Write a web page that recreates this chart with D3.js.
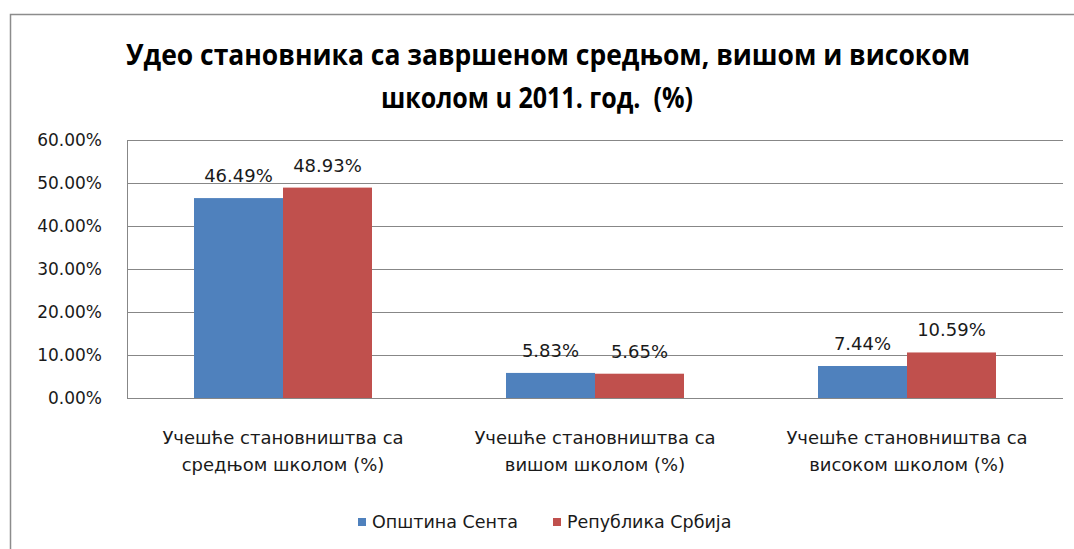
<!DOCTYPE html>
<html>
<head>
<meta charset="utf-8">
<script src="https://cdn.jsdelivr.net/npm/d3@7"></script>
<style>
  body { margin: 0; background: #fff; }
  text { font-family: "DejaVu Sans", sans-serif; fill: #1a1a1a; }
</style>
</head>
<body>
<svg id="vis"></svg>
<script>
const width = 1074;
const height = 549;

const categories = [
  ["Учешће становништва са", "средњом школом (%)"],
  ["Учешће становништва са", "вишом школом (%)"],
  ["Учешће становништва са", "високом школом (%)"]
];
const seriesNames = ["Општина Сента", "Република Србија"];
const senta = [46.49, 5.83, 7.44];
const srbija = [48.93, 5.65, 10.59];
const yTicks = [0, 10, 20, 30, 40, 50, 60];
const colours = ["#4F81BD", "#C0504D"];

const plot = { left: 127, right: 1063, top: 140, bottom: 398 };

const svg = d3.select("#vis")
  .attr("width", width)
  .attr("height", height);

// chart frame (only top and left visible in the picture)
svg.append("path")
  .attr("d", "M10.5,549 V14.5 H1074")
  .attr("fill", "none")
  .attr("stroke", "#8c8c8c")
  .attr("stroke-width", 1.5);

const title = svg.append("text")
  .attr("text-anchor", "middle")
  .style("font-family", "\"Open Sans\", sans-serif")
  .style("font-size", "29px")
  .style("font-weight", "bold")
  .style("white-space", "pre")
  .style("fill", "#000");
title.append("tspan").attr("x", 548).attr("y", 65)
  .attr("textLength", 844).attr("lengthAdjust", "spacingAndGlyphs")
  .text("Удео становника са завршеном средњом, вишом и високом");
title.append("tspan").attr("x", 537).attr("y", 108)
  .attr("textLength", 312).attr("lengthAdjust", "spacingAndGlyphs")
  .text("школом u 2011. год.  (%)");

const x0 = d3.scaleBand()
  .domain(d3.range(categories.length))
  .range([plot.left, plot.right]);

const x1 = d3.scaleBand()
  .domain(d3.range(seriesNames.length))
  .range([0, 178]);

const y = d3.scaleLinear()
  .domain([0, 60])
  .range([plot.bottom, plot.top]);

// gridlines
svg.append("g")
  .selectAll("line")
  .data(yTicks)
  .join("line")
  .attr("x1", plot.left)
  .attr("x2", plot.right)
  .attr("y1", d => Math.round(y(d)) + 0.5)
  .attr("y2", d => Math.round(y(d)) + 0.5)
  .attr("stroke", "#878787");

svg.append("line")
  .attr("x1", plot.left + 0.5)
  .attr("x2", plot.left + 0.5)
  .attr("y1", plot.top)
  .attr("y2", plot.bottom)
  .attr("stroke", "#878787");

// y axis labels
const yAxis = svg.append("g")
  .attr("transform", `translate(${plot.left}, 0)`)
  .call(d3.axisLeft(y).tickValues(yTicks).tickSize(0).tickPadding(25)
    .tickFormat(d => d.toFixed(2) + "%"));
yAxis.select(".domain").remove();
yAxis.selectAll("text")
  .style("font-family", "\"DejaVu Sans\", sans-serif")
  .style("font-size", "17px")
  .attr("fill", "#1a1a1a");

const rows = categories.map((c, i) => ({ i, values: [senta[i], srbija[i]] }));

const groups = svg.append("g")
  .selectAll("g")
  .data(rows)
  .join("g")
  .attr("transform", d => `translate(${x0(d.i) + (x0.bandwidth() - 178) / 2}, 0)`);

groups.selectAll("rect")
  .data(d => d.values.map((v, s) => ({ v, s })))
  .join("rect")
  .attr("x", d => x1(d.s))
  .attr("width", x1.bandwidth())
  .attr("y", d => y(d.v))
  .attr("height", d => y(0) - y(d.v))
  .attr("fill", d => colours[d.s]);

groups.selectAll("text")
  .data(d => d.values.map((v, s) => ({ v, s })))
  .join("text")
  .attr("x", d => x1(d.s) + x1.bandwidth() / 2)
  .attr("y", d => y(d.v) - 16)
  .attr("text-anchor", "middle")
  .style("font-size", "18px")
  .text(d => d.v.toFixed(2) + "%");

// category labels
svg.append("g")
  .selectAll("text")
  .data(categories)
  .join("text")
  .attr("text-anchor", "middle")
  .style("font-size", "18px")
  .each(function (d, i) {
    d3.select(this).selectAll("tspan")
      .data(d)
      .join("tspan")
      .attr("x", x0(i) + x0.bandwidth() / 2)
      .attr("y", (t, k) => 444 + k * 27)
      .text(t => t);
  });

// legend
const legend = svg.append("g");
const legendX = [358, 553];
seriesNames.forEach((name, s) => {
  legend.append("rect")
    .attr("x", legendX[s])
    .attr("y", 518)
    .attr("width", 8)
    .attr("height", 8)
    .attr("fill", colours[s]);
  legend.append("text")
    .attr("x", legendX[s] + 14)
    .attr("y", 528)
    .style("font-size", "17.5px")
    .text(name);
});
</script>
</body>
</html>
